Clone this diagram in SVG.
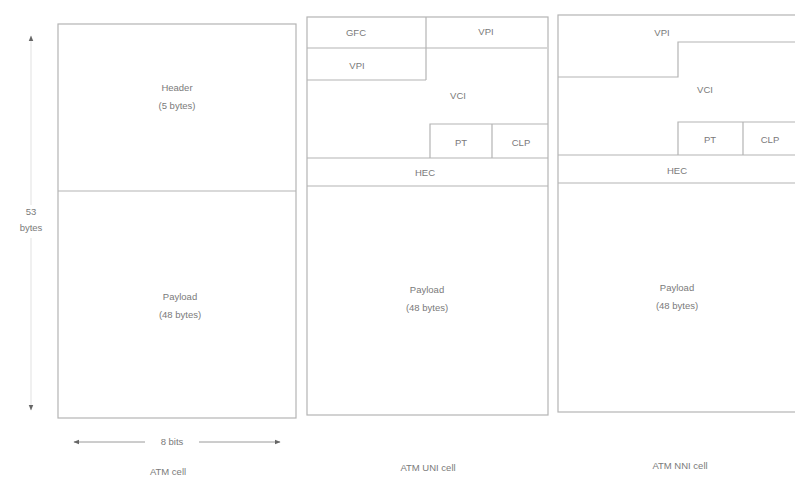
<svg xmlns="http://www.w3.org/2000/svg" width="795" height="481" viewBox="0 0 795 481">
<style>
.ln{fill:none;stroke:#b4b4b4;stroke-width:1.2}
.t{font-family:"Liberation Sans",Arial,sans-serif;font-size:9.5px;fill:#7a7a7a;text-anchor:middle;dominant-baseline:middle}
.ar{stroke:#9a9a9a;stroke-width:1;fill:none}
</style>
<defs>
<marker id="ah" viewBox="0 0 10 10" refX="9" refY="5" markerWidth="6" markerHeight="6" orient="auto-start-reverse">
<path d="M0,1 L10,5 L0,9 Z" fill="#666"/>
</marker>
</defs>
<rect width="795" height="481" fill="#fff"/>
<g id="atm-cell">
<rect class="ln" x="58" y="24" width="238" height="394"/>
<line class="ln" x1="58" y1="191" x2="296" y2="191"/>
<text class="t" x="177" y="88">Header</text>
<text class="t" x="177" y="106">(5 bytes)</text>
<text class="t" x="180" y="297">Payload</text>
<text class="t" x="180" y="315">(48 bytes)</text>
</g>
<g id="uni-cell">
<rect class="ln" x="307" y="17" width="241" height="398"/>
<line class="ln" x1="307" y1="48" x2="547" y2="48"/>
<line class="ln" x1="426" y1="17" x2="426" y2="80"/>
<line class="ln" x1="307" y1="80" x2="426" y2="80"/>
<path class="ln" d="M430,158 V124 H548 M492,124 V158"/>
<line class="ln" x1="307" y1="158" x2="548" y2="158"/>
<line class="ln" x1="307" y1="186" x2="548" y2="186"/>
<text class="t" x="356" y="33">GFC</text>
<text class="t" x="486" y="32">VPI</text>
<text class="t" x="357" y="66">VPI</text>
<text class="t" x="458" y="96">VCI</text>
<text class="t" x="461" y="143">PT</text>
<text class="t" x="521" y="143">CLP</text>
<text class="t" x="425" y="173">HEC</text>
<text class="t" x="427" y="290">Payload</text>
<text class="t" x="427" y="308">(48 bytes)</text>
</g>
<g id="nni-cell">
<rect class="ln" x="558" y="15" width="240" height="397"/>
<path class="ln" d="M795,42 H678 V77 H558"/>
<path class="ln" d="M678,155 V122 H795 M743,122 V155"/>
<line class="ln" x1="558" y1="155" x2="795" y2="155"/>
<line class="ln" x1="558" y1="183" x2="795" y2="183"/>
<text class="t" x="662" y="33">VPI</text>
<text class="t" x="705" y="90">VCI</text>
<text class="t" x="710" y="140">PT</text>
<text class="t" x="770" y="140">CLP</text>
<text class="t" x="677" y="171">HEC</text>
<text class="t" x="677" y="288">Payload</text>
<text class="t" x="677" y="306">(48 bytes)</text>
</g>
<g id="connectors">
<line class="ar" x1="31" y1="205" x2="31" y2="36" marker-end="url(#ah)" stroke-opacity="0.3"/>
<line class="ar" x1="31" y1="238" x2="31" y2="410" marker-end="url(#ah)" stroke-opacity="0.3"/>
<line class="ar" x1="145" y1="442" x2="74" y2="442" marker-end="url(#ah)"/>
<line class="ar" x1="199" y1="442" x2="280" y2="442" marker-end="url(#ah)"/>
</g>
<g id="labels">
<text class="t" x="31" y="212">53</text>
<text class="t" x="31" y="228">bytes</text>
<text class="t" x="172" y="442">8 bits</text>
<text class="t" x="168" y="472">ATM cell</text>
<text class="t" x="428" y="468">ATM UNI cell</text>
<text class="t" x="680" y="466">ATM NNI cell</text>
</g>
</svg>
